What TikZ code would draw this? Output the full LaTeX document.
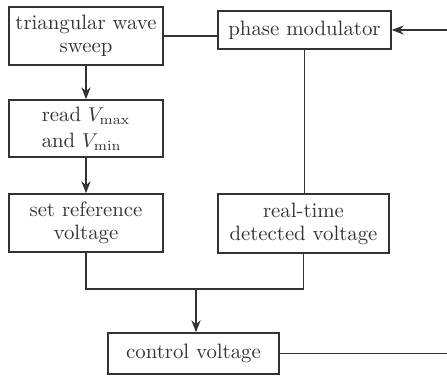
\documentclass[tikz,border=0pt]{standalone}
\usepackage{tikz}
\usetikzlibrary{positioning,arrows.meta}
\definecolor{LCGray}{HTML}{333333}
\tikzset{
  blockbox/.style={draw=LCGray, line width=0.75pt, text=LCGray, align=center,
    inner sep=1pt, font=\fontsize{10.4}{11.5}\selectfont},
  link/.style={draw=LCGray, line width=0.75pt},
  arr/.style={link, -{Stealth[length=6pt,width=4.6pt]}}
}

\begin{document}
\begin{tikzpicture}[x=0.5pt,y=-0.5pt]
  \useasboundingbox (0,0) rectangle (447,377);
  \node[blockbox, minimum width=77pt, minimum height=29pt] (sweep) at (86,36) {triangular wave\\sweep};
  \node[blockbox, minimum width=86.5pt, minimum height=19pt] (phase) at (304.5,30) {phase modulator};
  \node[blockbox, align=left, minimum width=77pt, minimum height=28.5pt] (read) at (86,128.5) {read $V_{\mathrm{max}}$\\[1.5pt]and $V_{\mathrm{min}}$};
  \node[blockbox, minimum width=77pt, minimum height=29pt] (setref) at (86,223) {set reference\\voltage};
  \node[blockbox, minimum width=85.5pt, minimum height=29.5pt] (rt) at (303.5,223.5) {real-time\\detected voltage};
  \node[blockbox, minimum width=85.5pt, minimum height=20.5pt] (ctrl) at (193.5,353.5) {control voltage};
  \coordinate (fbin) at (447,30);
  \coordinate (fbout) at (447,357);
  \coordinate (jn) at (196,289);
  % connectors
  \draw[link] (sweep.east) -- (sweep.east -| phase.west);
  \draw[arr] (fbin) -- (phase.east);
  \draw[arr] (sweep.south) -- (read.north);
  \draw[arr] (read.south) -- (setref.north);
  \draw[link] (phase.south) -- (phase.south |- rt.north);
  \draw[link] (setref.south) |- (jn) -| (rt.south);
  \draw[arr] (jn) -- (jn |- ctrl.north);
  \draw[link] (ctrl.east) -- (ctrl.east -| fbout);
\end{tikzpicture}
\end{document}
